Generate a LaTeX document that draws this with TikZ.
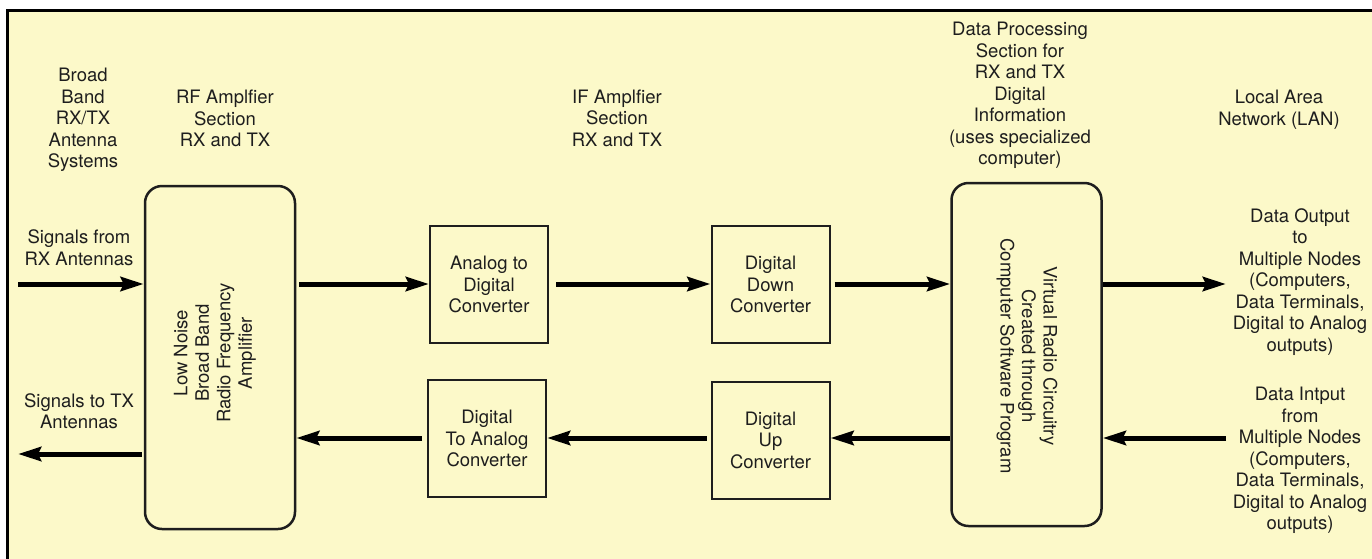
\documentclass[tikz,border=0pt]{standalone}
\usepackage{fontspec}
\setmainfont{TeX Gyre Heros}
\usetikzlibrary{arrows.meta}
\definecolor{bgyellow}{RGB}{252,249,201}
\definecolor{ink}{RGB}{30,30,30}
\tikzset{
  lbl/.style={align=center, inner sep=0pt, text=ink, font=\fontsize{18.5}{21.5}\selectfont},
  sqbox/.style={draw=ink, line width=2pt, minimum width=118pt, minimum height=117pt, inner sep=0pt},
  rbox/.style={draw=ink, line width=2.5pt, rounded corners=17pt, minimum width=150pt, minimum height=343pt, inner sep=0pt},
  arr/.style={draw=black, line width=5pt, -{Stealth[length=23pt,width=14pt,inset=3pt]}}
}
\begin{document}
\begin{tikzpicture}[x=1pt,y=-1pt]
\useasboundingbox (0,0) rectangle (1372,558);
\fill[white] (0,0) rectangle (1372,558);
\clip (0,0) rectangle (1372,558);
\filldraw[fill=bgyellow, draw=black, line width=3pt] (7,10) rectangle (1395,580);

% header labels
\node[lbl] (ant) at (83,120) {Broad\\Band\\RX/TX\\Antenna\\Systems};
\node[lbl] (rfsec) at (225,118.5) {RF Amplfier\\Section\\RX and TX};
\node[lbl] (ifsec) at (617,118) {IF Amplfier\\Section\\RX and TX};
\node[lbl] (dpsec) at (1020,95.5) {Data Processing\\Section for\\RX and TX\\Digital\\Information\\(uses specialized\\computer)};
\node[lbl] (lan) at (1279,109.5) {Local Area\\Network (LAN)};

% side labels
\node[lbl] (rxlbl) at (79,247.5) {Signals from\\RX Antennas};
\node[lbl] (txlbl) at (79,411) {Signals to TX\\Antennas};
\node[lbl] (outlbl) at (1300,282) {Data Output\\to\\Multiple Nodes\\(Computers,\\Data Terminals,\\Digital to Analog\\outputs)};
\node[lbl] (inlbl) at (1300,460.5) {Data Intput\\from\\Multiple Nodes\\(Computers,\\Data Terminals,\\Digital to Analog\\outputs)};

% blocks
\node[rbox] (lna) at (220,357.5) {};
\node[lbl, rotate=90] (lnat) at (215,353) {Low Noise\\Broad Band\\Radio Frequency\\Amplifier};
\node[rbox] (vrc) at (1026.5,354.5) {};
\node[lbl, rotate=-90] (vrct) at (1027,356) {Virtual Radio Circuitry\\Created through\\Computer Software Program};

\node[sqbox, lbl] (adc) at (489,284.5) {Analog to\\Digital\\Converter};
\node[sqbox, lbl] (ddc) at (770.5,284.5) {Digital\\Down\\Converter};
\node[sqbox, lbl] (dac) at (487,438.5) {Digital\\To Analog\\Converter};
\node[sqbox, lbl] (duc) at (770.5,440) {Digital\\Up\\Converter};

% free ends
\coordinate (rxin) at (18,284);
\coordinate (txout) at (18,454);
\coordinate (dout) at (1226,284);
\coordinate (din) at (1226,438);
\coordinate (top) at (0,284);
\coordinate (bot) at (0,438);

% receive path
\draw[arr] (rxin) -- (rxin -| lna.west);
\draw[arr, shorten <=3pt] (top -| lna.east) -- (top -| adc.west);
\draw[arr, shorten <=7pt] (top -| adc.east) -- (top -| ddc.west);
\draw[arr, shorten <=4pt] (top -| ddc.east) -- (top -| vrc.west);
\draw[arr] (top -| vrc.east) -- (dout);

% transmit path
\draw[arr] (din) -- (bot -| vrc.east);
\draw[arr] (bot -| vrc.west) -- (bot -| duc.east);
\draw[arr, shorten <=4pt] (bot -| duc.west) -- (bot -| dac.east);
\draw[arr, shorten <=5pt] (bot -| dac.west) -- (bot -| lna.east);
\draw[arr, shorten <=2pt] (txout -| lna.west) -- (txout);
\end{tikzpicture}
\end{document}
